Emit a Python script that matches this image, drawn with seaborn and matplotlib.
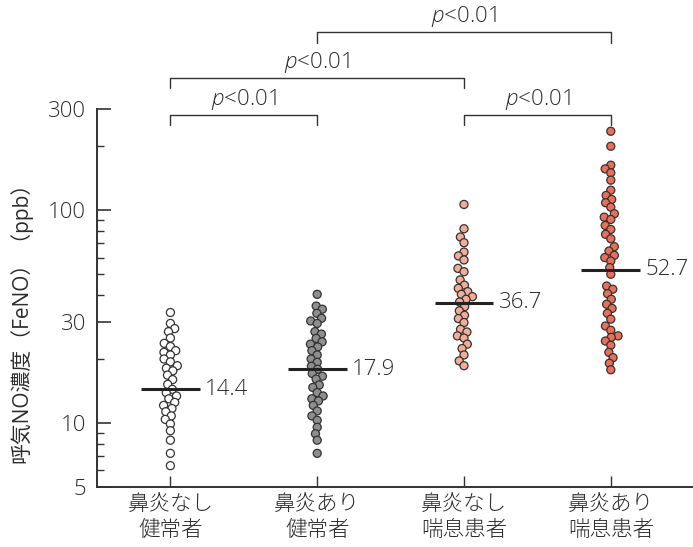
import numpy as np
import pandas as pd
import matplotlib
matplotlib.use("Agg")
import matplotlib.pyplot as plt
import matplotlib.transforms as mtransforms
from matplotlib.ticker import FixedLocator, NullFormatter
import seaborn as sns

# ---- data -------------------------------------------------------------
groups = ["鼻炎なし\n健常者", "鼻炎あり\n健常者", "鼻炎なし\n喘息患者", "鼻炎あり\n喘息患者"]

healthy_no_rhinitis = [33.1, 29.4, 27.8, 26.9, 25.1, 23.7, 22.9, 21.9, 21.5, 20.9,
                       20.0, 19.4, 18.6, 18.1, 17.6, 16.8, 16.0, 15.2, 14.4, 13.9,
                       13.4, 13.0, 12.5, 12.1, 11.7, 11.3, 10.8, 10.4, 9.9, 9.2,
                       8.3, 7.2, 6.3]
healthy_rhinitis = [40.3, 35.5, 34.3, 32.8, 31.1, 30.2, 29.4, 26.9, 26.2, 25.0,
                    24.1, 23.5, 22.8, 21.9, 20.9, 20.0, 19.3, 18.5, 17.9, 17.1,
                    16.6, 16.1, 15.1, 14.7, 13.9, 13.4, 13.0, 12.7, 12.1, 11.4,
                    10.8, 10.3, 9.55, 8.9, 8.3, 7.2]
asthma_no_rhinitis = [106.7, 82.0, 75.0, 70.5, 63.7, 61.1, 58.5, 53.4, 51.5, 47.1,
                      44.5, 43.0, 41.5, 40.3, 39.3, 38.2, 37.1, 35.3, 33.7, 32.1,
                      31.0, 29.7, 27.6, 26.8, 25.7, 25.1, 23.5, 22.4, 20.9, 19.6,
                      18.6]
asthma_rhinitis = [235.7, 200.4, 163.2, 156.9, 150.3, 138.8, 124.5, 117.6, 112.6, 108.7,
                   103.6, 96.5, 93.0, 90.7, 85.0, 81.4, 77.2, 73.6, 67.5, 64.4,
                   61.5, 60.0, 57.8, 53.8, 50.1, 44.1, 42.6, 40.6, 38.2, 36.2,
                   34.6, 32.8, 30.8, 28.6, 27.3, 25.7, 25.3, 24.3, 23.2, 21.5,
                   20.3, 19.1, 17.8]
group_values = [healthy_no_rhinitis, healthy_rhinitis, asthma_no_rhinitis, asthma_rhinitis]

medians = [14.4, 17.9, 36.7, 52.7]

y_major = [5, 10, 30, 100, 300]
y_minor = [6, 7, 8, 9, 20, 40, 50, 60, 70, 80, 90, 200]

# pairs of group indices compared, with the tier of each bracket
comparisons = [(0, 1, 0), (2, 3, 0), (0, 2, 1), (1, 3, 2)]
p_label = "<0.01"

colors = ["#ffffff", "#8e8e8e", "#f2ad98", "#e8705a"]

# ---- style ------------------------------------------------------------
sns.set_style("ticks")
plt.rcParams["font.family"] = ["Open Sans", "Noto Sans CJK JP", "DejaVu Sans"]
plt.rcParams["font.weight"] = "light"
plt.rcParams["mathtext.fontset"] = "custom"
plt.rcParams["mathtext.it"] = "Open Sans:italic:light"
plt.rcParams["mathtext.rm"] = "Open Sans:light"
text_color = "#2c2c2c"

df = pd.DataFrame({
    "group": np.repeat(groups, [len(v) for v in group_values]),
    "feno": np.concatenate(group_values),
})

fig = plt.figure(figsize=(6.93, 5.47), dpi=100)
ax = fig.add_axes([97 / 693, 1 - 487 / 547, 596 / 693, 378 / 547])
ax.set_yscale("log")
ax.set_ylim(5, 300)
ax.set_xlim(-0.5, 3.56)

sns.swarmplot(data=df, x="group", y="feno", hue="group", order=groups,
              hue_order=groups, palette=colors, size=5.8, linewidth=0.9,
              edgecolor="#333333", legend=False, ax=ax, zorder=3)

# pack each swarm tighter than the marker size so neighbouring dots overlap
for coll in ax.collections:
    full = coll.get_sizes().copy()
    coll.get_sizes = (lambda s=full: s * 0.45)

ax.set_ylim(5, 300)
ax.set_xlim(-0.5, 3.56)

# median bars with value labels
for i, m in enumerate(medians):
    ax.hlines(m, i - 0.2, i + 0.2, color="#222222", lw=2.2, zorder=5)
    ax.text(i + 0.235, m, f"{m:.1f}", va="center", ha="left",
            fontsize=16, color=text_color)

# axes styling
for side in ("top", "right"):
    ax.spines[side].set_visible(False)
for side in ("left", "bottom"):
    ax.spines[side].set_color("#333333")
    ax.spines[side].set_linewidth(1.4)

ax.yaxis.set_major_locator(FixedLocator(y_major))
ax.yaxis.set_minor_locator(FixedLocator(y_minor))
ax.yaxis.set_minor_formatter(NullFormatter())
ax.set_yticklabels([str(v) for v in y_major])
ax.tick_params(axis="y", which="major", direction="in", length=10, width=1.2,
               color="#333333", labelsize=16, labelcolor=text_color, pad=8)
ax.tick_params(axis="y", which="minor", direction="in", length=5, width=1.0,
               color="#333333")
ax.tick_params(axis="x", which="major", direction="in", length=8, width=1.0,
               color="#333333", labelsize=15.5, labelcolor=text_color, pad=6)
ax.set_xlabel("")
ax.set_ylabel("呼気NO濃度（FeNO）（ppb）", fontsize=15, color=text_color)
ax.yaxis.set_label_coords(-0.108, 0.45)

# significance brackets above the groups
trans = mtransforms.blended_transform_factory(ax.transData, ax.transAxes)
tiers = [(0.9854, 0.9577, 1.026), (1.082, 1.0556, 1.122), (1.2037, 1.1746, 1.244)]
for a, b, t in comparisons:
    top, bottom, ty = tiers[t]
    ax.plot([a, a, b, b], [bottom, top, top, bottom], color="#333333", lw=1.0,
            transform=trans, clip_on=False)
    ax.text((a + b) / 2, ty, r"$\mathit{p}$" + p_label, ha="center", va="center",
            fontsize=16, color=text_color, transform=trans)

fig.savefig("out.png", dpi=100)
